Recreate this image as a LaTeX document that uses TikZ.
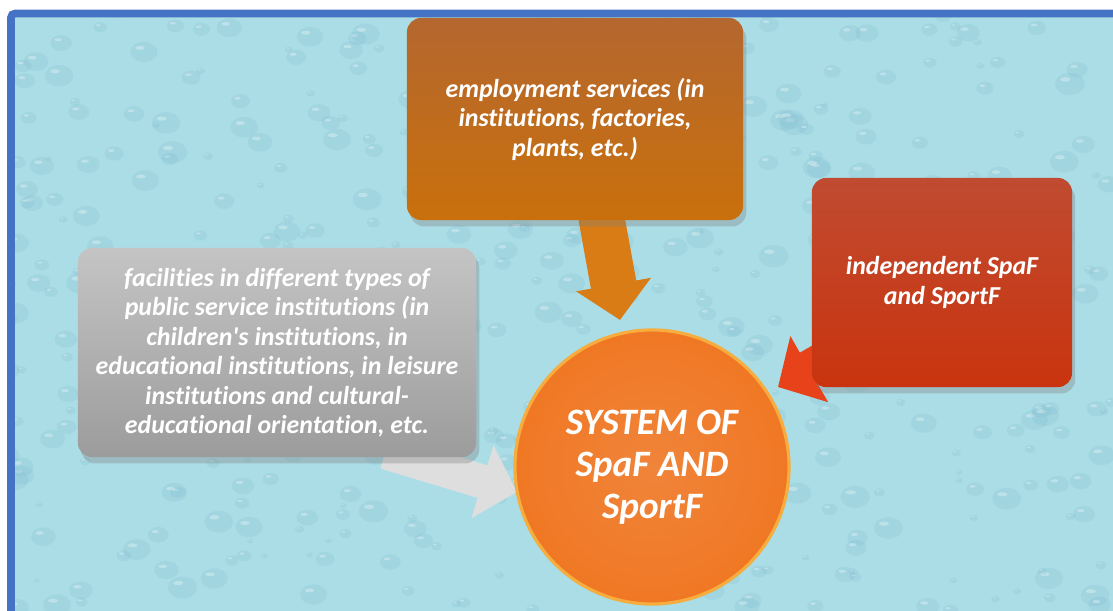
\documentclass[tikz,border=0pt]{standalone}
\usepackage{fontspec}
\setmainfont{Carlito}[Ligatures=NoCommon]
\usetikzlibrary{arrows.meta,shadows}
\pgfdeclarelayer{bg}\pgfdeclarelayer{arr}
\pgfsetlayers{bg,arr,main}
\definecolor{frameblue}{HTML}{4472C4}
\definecolor{water}{HTML}{ABDDE6}
\definecolor{drop}{HTML}{7FBDCE}
\definecolor{empT}{HTML}{B4672F}\definecolor{empB}{HTML}{C9700C}
\definecolor{indT}{HTML}{C04B31}\definecolor{indB}{HTML}{C9340E}
\definecolor{facT}{HTML}{C4C4C4}\definecolor{facB}{HTML}{9C9C9C}
\definecolor{arrE}{HTML}{D97C16}\definecolor{arrI}{HTML}{E8421A}\definecolor{arrF}{HTML}{DEDEDE}
\begin{document}
\begin{tikzpicture}[x=0.025cm, y=-0.025cm, line join=round, font=\bfseries\itshape]
                \def\boxfont{\fontsize{18.4}{21}\selectfont}\def\sysfont{\fontsize{26.5}{30}\selectfont}
                \tikzset{s/.style={rectangle,rounded corners=0.35cm,text=white,align=center,inner sep=0pt,font=\boxfont\bfseries\itshape,
                        drop shadow={shadow xshift=0.08cm,shadow yshift=-0.16cm,opacity=0.35}},
                    a/.style={line width=#1,-{Triangle[width=1.85cm,length=0.9cm]}}}
                \clip(0,0)rectangle(1113,611);
                % background with water drops
                \begin{pgfonlayer}{bg}
                    \fill[white](0,0)rectangle(1113,611);
                    \fill[water](14,16)rectangle(1140,640);
                    \begin{scope}
                        \clip(14,16)rectangle(1140,640);
                        \pgfmathsetseed{11}
                        \foreach \i in {1,...,520}{
                            \pgfmathsetmacro\xx{rnd*1113}\pgfmathsetmacro\yy{rnd*611}\pgfmathsetmacro\rr{3+rnd*12}
                            \fill[drop,opacity=0.22](\xx,\yy)ellipse[x radius=\rr,y radius=0.75*\rr];
                            \fill[white,opacity=0.3](\xx-0.3*\rr,\yy-0.3*\rr)ellipse[x radius=0.35*\rr,y radius=0.15*\rr];}
                    \end{scope}
                    \draw[frameblue,line width=0.19cm,rounded corners=0.1cm](11,13.5)rectangle(1140,640);
                \end{pgfonlayer}
                \node[s,minimum width=8.4cm,minimum height=5.05cm,top color=empT,bottom color=empB](emp)at(575,119)
                {employment services (in\\institutions, factories,\\plants, etc.)};
                \node[s,minimum width=6.5cm,minimum height=5.225cm,top color=indT,bottom color=indB](ind)at(942,282.5)
                {independent SpaF\\and SportF};
                \node[s,minimum width=9.95cm,minimum height=5.225cm,top color=facT,bottom color=facB](fac)at(277,352.5)
                {facilities in different types of\\public service institutions (in\\children\textquotesingle s institutions, in\\educational institutions, in leisure\\institutions and cultural-\\educational orientation, etc.};
                \node[circle,minimum size=6.85cm,inner sep=0pt,text=white,align=center,font=\sysfont\bfseries\itshape,
                    shading=radial,inner color={rgb,255:red,240;green,132;blue,58},outer color={rgb,255:red,240;green,120;blue,36},
                    draw={rgb,255:red,247;green,172;blue,62},line width=0.08cm](sys)at(652,467){SYSTEM OF\\SpaF AND\\SportF};
                % arrows from the boxes
                \path([shift={(0.6cm,0.4cm)}]emp.south)coordinate(s1) ([shift={(1.2cm,1.175cm)}]ind.south west)coordinate(s2)
                ([shift={(-2.275cm,0.125cm)}]fac.south east)coordinate(s3);
                \coordinate(pE)at(620,320);\coordinate(pI)at(778,387);\coordinate(pF)at(517,492);
                \begin{pgfonlayer}{arr}
                    \foreach \x/\y/\w/\c in {s1/pE/1.15/arrE,s2/pI/0.95/arrI,s3/pF/0.85/arrF}{
                        \draw[a=\w cm,draw=\c,fill=\c](\x)--(\y);}
                \end{pgfonlayer}
\end{tikzpicture}
\end{document}
